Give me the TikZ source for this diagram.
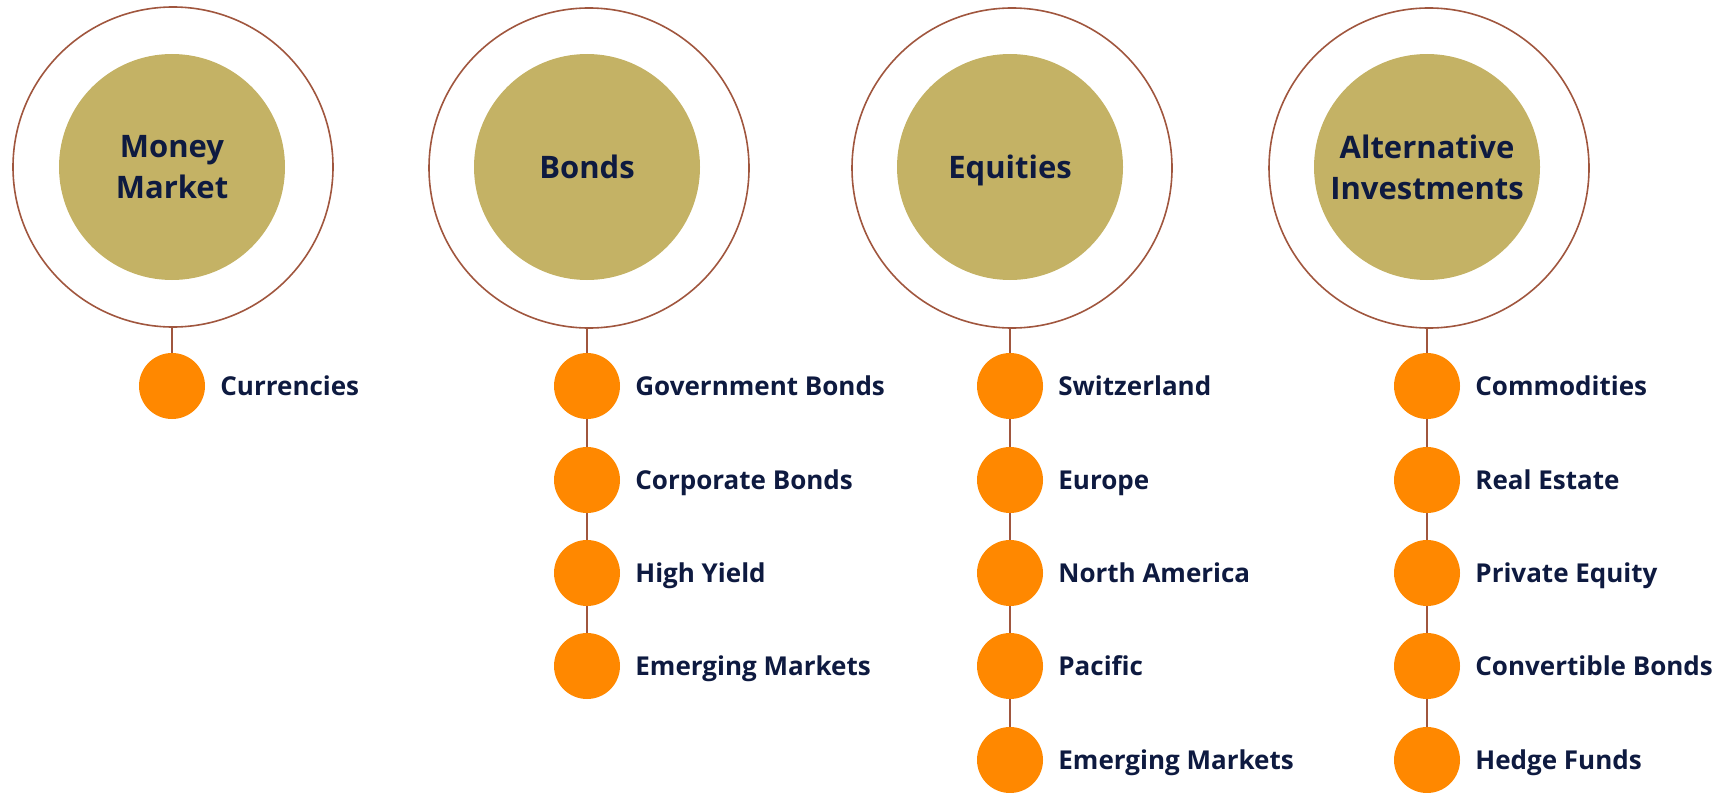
\documentclass[tikz,border=0pt]{standalone}
\usepackage{fontspec}
\setmainfont{Open Sans}
\usetikzlibrary{positioning}
\definecolor{ringbrown}{RGB}{160,86,62}
\definecolor{coregold}{RGB}{196,178,101}
\definecolor{dotorange}{RGB}{255,136,0}
\definecolor{navy}{RGB}{14,26,64}
\tikzset{
  ring/.style={circle, draw=ringbrown, line width=1.6pt, minimum size=320pt, inner sep=0pt},
  core/.style={circle, fill=coregold, minimum size=226pt, inner sep=0pt, align=center,
    text=navy, font=\fontsize{31}{41}\selectfont\bfseries},
  oneline/.style={text height=23pt, text depth=0pt},
  dot/.style={circle, fill=dotorange, minimum size=66pt, inner sep=0pt},
  item/.style={right=15pt of #1, inner sep=0pt, text height=19pt, text depth=0pt,
    text=navy, font=\fontsize{26}{30}\selectfont\bfseries},
  stem/.style={draw=ringbrown, line width=2pt}
}
\begin{document}
\begin{tikzpicture}[x=1pt,y=-1pt]
  \useasboundingbox (0,0) rectangle (1728,792);
  % asset classes
  \node[ring] (mmring) at (173,167) {};
  \node[core] (mm) at (172,167) {Money\\Market};
  \node[ring] (bdring) at (589,168) {};
  \node[core, oneline] (bd) at (587,167) {Bonds};
  \node[ring] (eqring) at (1012,168) {};
  \node[core, oneline] (eq) at (1010,167) {Equities};
  \node[ring] (altring) at (1429,168) {};
  \node[core] (alt) at (1427,167) {Alternative\\Investments};
  % money market
  \node[dot] (mm1) at (172,386) {};
  \node[item=mm1] (mm1t) {Currencies};
  % bonds
  \node[dot] (bd1) at (587,386) {};
  \node[dot] (bd2) at (587,480) {};
  \node[dot] (bd3) at (587,573) {};
  \node[dot] (bd4) at (587,666) {};
  \node[item=bd1] (bd1t) {Government Bonds};
  \node[item=bd2] (bd2t) {Corporate Bonds};
  \node[item=bd3] (bd3t) {High Yield};
  \node[item=bd4] (bd4t) {Emerging Markets};
  % equities
  \node[dot] (eq1) at (1010,386) {};
  \node[dot] (eq2) at (1010,480) {};
  \node[dot] (eq3) at (1010,573) {};
  \node[dot] (eq4) at (1010,666) {};
  \node[dot] (eq5) at (1010,760) {};
  \node[item=eq1] (eq1t) {Switzerland};
  \node[item=eq2] (eq2t) {Europe};
  \node[item=eq3] (eq3t) {North America};
  \node[item=eq4] (eq4t) {Pacific};
  \node[item=eq5] (eq5t) {Emerging Markets};
  % alternative investments
  \node[dot] (alt1) at (1427,386) {};
  \node[dot] (alt2) at (1427,480) {};
  \node[dot] (alt3) at (1427,573) {};
  \node[dot] (alt4) at (1427,666) {};
  \node[dot] (alt5) at (1427,760) {};
  \node[item=alt1] (alt1t) {Commodities};
  \node[item=alt2] (alt2t) {Real Estate};
  \node[item=alt3] (alt3t) {Private Equity};
  \node[item=alt4] (alt4t) {Convertible Bonds};
  \node[item=alt5] (alt5t) {Hedge Funds};
  % stems
  \draw[stem] (mm1 |- mmring.south) -- (mm1.north);
  \draw[stem] (bd1 |- bdring.south) -- (bd1.north);
  \draw[stem] (bd1.south) -- (bd2.north);
  \draw[stem] (bd2.south) -- (bd3.north);
  \draw[stem] (bd3.south) -- (bd4.north);
  \draw[stem] (eq1 |- eqring.south) -- (eq1.north);
  \draw[stem] (eq1.south) -- (eq2.north);
  \draw[stem] (eq2.south) -- (eq3.north);
  \draw[stem] (eq3.south) -- (eq4.north);
  \draw[stem] (eq4.south) -- (eq5.north);
  \draw[stem] (alt1 |- altring.south) -- (alt1.north);
  \draw[stem] (alt1.south) -- (alt2.north);
  \draw[stem] (alt2.south) -- (alt3.north);
  \draw[stem] (alt3.south) -- (alt4.north);
  \draw[stem] (alt4.south) -- (alt5.north);
\end{tikzpicture}
\end{document}
